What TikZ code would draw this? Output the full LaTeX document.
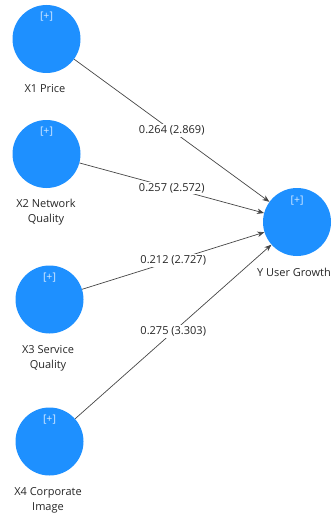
\documentclass[tikz,border=0pt]{standalone}
\usepackage{fontspec}
\setmainfont{Open Sans}
\usetikzlibrary{arrows.meta}
\definecolor{lvblue}{RGB}{30,144,255}
\definecolor{plusc}{RGB}{215,235,255}
\definecolor{edgec}{RGB}{70,70,70}
\tikzset{
  lv/.style={circle, fill=lvblue, draw=none, minimum size=68pt, inner sep=0pt},
  plustxt/.style={text=plusc, font=\fontsize{10.5}{12}\selectfont, inner sep=0pt},
  lvname/.style={font=\fontsize{11}{15}\selectfont, text=black!85, align=center, inner sep=0pt},
  path/.style={draw=edgec, line width=0.7pt, -{Stealth[length=7pt,width=5.5pt]}},
  coef/.style={fill=white, font=\fontsize{11}{12}\selectfont, text=black!85, inner sep=1.5pt, pos=0.5}
}
\begin{document}
\begin{tikzpicture}[x=1pt,y=-1pt]
\useasboundingbox (0,0) rectangle (332,516);
\node[lv] (x1) at (46.5,39) {};
\node[lv] (x2) at (46.5,154) {};
\node[lv] (x3) at (49.5,299.5) {};
\node[lv] (x4) at (49.5,441.5) {};
\node[lv] (y) at (297,222) {};
\node[plustxt] (x1p) at ([yshift=22pt]x1.center) {[+]};
\node[plustxt] (x2p) at ([yshift=22pt]x2.center) {[+]};
\node[plustxt] (x3p) at ([yshift=22pt]x3.center) {[+]};
\node[plustxt] (x4p) at ([yshift=22pt]x4.center) {[+]};
\node[plustxt] (yp) at ([yshift=21pt]y.center) {[+]};
\node[lvname] (x1n) at (45,89) {X1 Price};
\node[lvname] (x2n) at (46,212.5) {X2 Network\\Quality};
\node[lvname] (x3n) at (48,358) {X3 Service\\Quality};
\node[lvname] (x4n) at (48,500) {X4 Corporate\\Image};
\node[lvname, anchor=east] (yn) at (331,272) {Y User Growth};
\draw[path] (x1) -- node[coef] (c1) {0.264 (2.869)} (y);
\draw[path] (x2) -- node[coef] (c2) {0.257 (2.572)} (y);
\draw[path] (x3) -- node[coef] (c3) {0.212 (2.727)} (y);
\draw[path] (x4) -- node[coef] (c4) {0.275 (3.303)} (y);
\end{tikzpicture}
\end{document}
